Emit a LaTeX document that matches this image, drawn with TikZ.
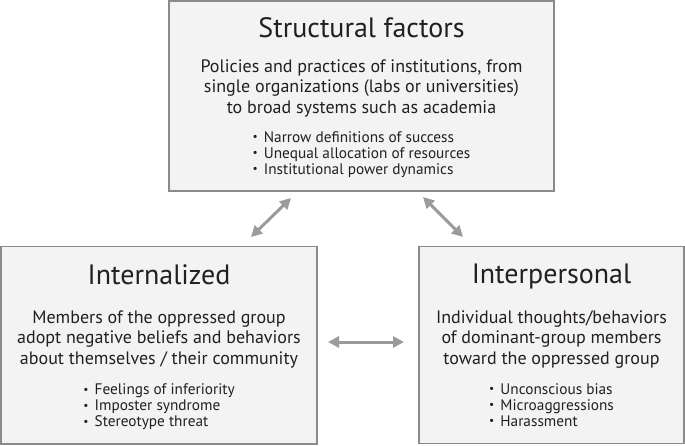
\documentclass[tikz,border=0pt]{standalone}
\usepackage{fontspec}
\setmainfont{PT Sans}
\usetikzlibrary{arrows.meta}
\definecolor{boxfill}{HTML}{F3F3F3}
\definecolor{boxline}{HTML}{8A8A8A}
\definecolor{arrowgray}{HTML}{9B9B9B}
\definecolor{ink}{HTML}{231F20}
\tikzset{
  box/.style={draw=boxline, line width=1.1pt, fill=boxfill, inner sep=0pt},
  ttl/.style={anchor=base, inner sep=0pt, text=ink, font=\fontsize{28}{30}\selectfont},
  body/.style={anchor=base, inner sep=0pt, text=ink, align=center, font=\fontsize{18}{20.5}\selectfont},
  bul/.style={anchor=base, inner sep=0pt, text=ink, align=left, font=\fontsize{15.3}{16}\selectfont},
  dblarrow/.style={draw=arrowgray, line width=3pt, {Triangle[length=11pt,width=11pt]}-{Triangle[length=11pt,width=11pt]}}
}
\newcommand{\bl}{\raisebox{0.15ex}{\scalebox{0.75}{•}}\hspace{0.4em}}
\begin{document}
\begin{tikzpicture}[x=1pt,y=-1pt]
\useasboundingbox (0,0) rectangle (685,445);
% boxes
\node[box, minimum width=385pt, minimum height=190pt] (sbox) at (361.5,96) {};
\node[box, minimum width=316pt, minimum height=197.5pt] (ibox) at (159,345.25) {};
\node[box, minimum width=265pt, minimum height=197pt] (pbox) at (551.5,345) {};
% structural (base anchor = last line)
\node[ttl] (stitle) at (361.5,37) {Structural factors};
\node[body] (sbody) at (361.5,113.3) {Policies and practices of institutions, from\\single organizations (labs or universities)\\to broad systems such as academia};
\node[bul] (slist) at (361.5,174) {\bl Narrow definitions of success\\\bl Unequal allocation of resources\\\bl Institutional power dynamics};
% internalized
\node[ttl] (ititle) at (159,284) {Internalized};
\node[body] (ibody) at (159,364.3) {Members of the oppressed group\\adopt negative beliefs and behaviors\\about themselves / their community};
\node[bul] (ilist) at (159,426.3) {\bl Feelings of inferiority\\\bl Imposter syndrome\\\bl Stereotype threat};
% interpersonal
\node[ttl] (ptitle) at (551.5,283.5) {Interpersonal};
\node[body] (pbody) at (551.5,364) {Individual thoughts/behaviors\\of dominant-group members\\toward the oppressed group};
\node[bul] (plist) at (551.5,426) {\bl Unconscious bias\\\bl Microaggressions\\\bl Harassment};
% arrows
\coordinate (a1) at (291,198);
\coordinate (a2) at (251,237);
\coordinate (b1) at (423,197);
\coordinate (b2) at (463,237);
\coordinate (c1) at (328,342);
\coordinate (c2) at (404,342);
\draw[dblarrow] (a1) -- (a2);
\draw[dblarrow] (b1) -- (b2);
\draw[dblarrow] (c1) -- (c2);
\end{tikzpicture}
\end{document}
